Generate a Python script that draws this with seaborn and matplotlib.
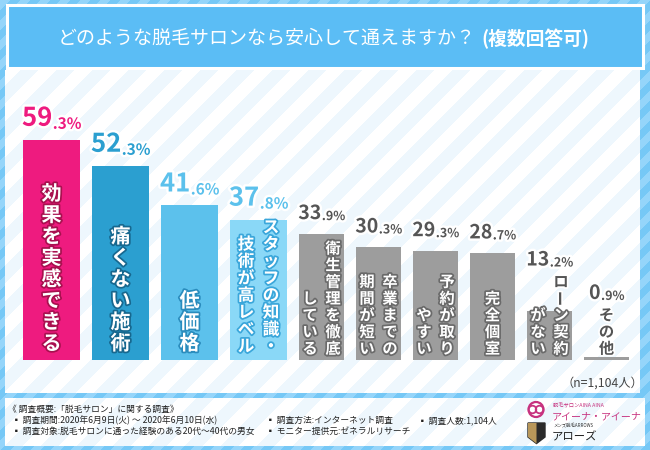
import numpy as np
import pandas as pd
import matplotlib
matplotlib.use("Agg")
import matplotlib.pyplot as plt
import matplotlib.patheffects as pe
from matplotlib.patches import Rectangle, Circle, Polygon
import seaborn as sns

# data
label_cols = ["効果を実感できる", "痛くない施術", "低価格", "スタッフの知識・\n技術が高レベル",
              "衛生管理を徹底\nしている", "卒業までの\n期間が短い", "予約が取り\nやすい",
              "完全個室", "ローン契約\nがない", "その他"]
categories = [s.replace("\n", "") for s in label_cols]
values = [59.3, 52.3, 41.6, 37.8, 33.9, 30.3, 29.3, 28.7, 13.2, 0.9]

title = "どのような脱毛サロンなら安心して通えますか？"
title_sub = "(複数回答可)"
n_note = "（n=1,104人）"
footer_lines = [
    ("《 調査概要:「脱毛サロン」に関する調査》", 8, 409),
    ("▪ 調査期間:2020年6月9日(火) ～ 2020年6月10日(水)", 12, 420.5),
    ("▪ 調査対象:脱毛サロンに通った経験のある20代～40代の男女", 12, 431.5),
    ("▪ 調査方法:インターネット調査", 266, 420.5),
    ("▪ モニター提供元:ゼネラルリサーチ", 266, 431.5),
    ("▪ 調査人数:1,104人", 418, 420.5),
]

# styles
bar_colors = ["#ee1b7f", "#2b9fd0", "#5cc1ec", "#8ad8f7"] + ["#9d9d9d"] * 6
value_colors = ["#ee1b7f", "#2b9fd0", "#5cc1ec", "#5cc1ec"] + ["#555555"] * 6
edge_colors = ["#a8104f", "#17688f", "#2a8cbd", "#3aa6da"] + ["#6a6a6a"] * 6
bar_w = [57] * 4 + [45] * 6
gap = 12
x0 = 23
W, H = 650, 450
base_px, top_px, ymax = 360, 100, 70
scale = (base_px - top_px) / ymax

sns.set_style("white")
plt.rcParams["font.family"] = ["Noto Sans CJK JP", "DejaVu Sans"]

fig = plt.figure(figsize=(6.5, 4.5), dpi=100)

# background with stripes
ax_bg = fig.add_axes([0, 0, 1, 1])
ax_bg.set_zorder(1)
yy, xx = np.mgrid[0:H, 0:W]
s = xx + yy
c1 = np.array([0x95, 0xd5, 0xfa]) / 255
c2 = np.array([0x76, 0xc8, 0xf6]) / 255
img = np.where(((s // 10) % 2 == 0)[..., None], c1, c2)
w1 = np.array([1.0, 1.0, 1.0])
w2 = np.array([0xee, 0xf7, 0xfd]) / 255
light = np.where(((s // 18) % 2 == 0)[..., None], w1, w2)
main = (xx >= 5) & (xx < 640) & (yy >= 70) & (yy < 393)
foot = (xx >= 5) & (xx < 645) & (yy >= 398) & (yy < 446)
img[main] = light[main]
img[foot] = light[foot]
ax_bg.imshow(img, extent=(0, W, H, 0), interpolation="nearest")
ax_bg.add_patch(Rectangle((7, 5), 636, 63, fc="#5bbdf5", ec="white", lw=2.2))
ax_bg.set_xlim(0, W)
ax_bg.set_ylim(H, 0)
ax_bg.axis("off")

# bars
ax = fig.add_axes([0, (H - base_px) / H, 1, (base_px - top_px) / H])
ax.set_zorder(2)
ax.patch.set_visible(False)
df = pd.DataFrame({"cat": categories, "val": values})
sns.barplot(data=df, x="cat", y="val", hue="cat", palette=bar_colors,
            legend=False, saturation=1, linewidth=0, ax=ax)
lefts = x0 + np.concatenate([[0], np.cumsum(np.array(bar_w[:-1]) + gap)])
for p, l, w in zip(ax.patches, lefts, bar_w):
    p.set_x(l)
    p.set_width(w)
ax.set_xlim(0, W)
ax.set_ylim(0, ymax)
ax.axis("off")

# vertical labels inside bars
ax_top = fig.add_axes([0, 0, 1, 1])
ax_top.set_zorder(3)
ax_top.patch.set_visible(False)
ax_top.set_xlim(0, W)
ax_top.set_ylim(H, 0)
ax_top.axis("off")

text_tops = []
for i, lab in enumerate(label_cols):
    cols = lab.split("\n")
    xc = lefts[i] + bar_w[i] / 2
    if i < 3:
        fs, step, d, bottom = 14.5, 21.4, 0, 354
    elif i == 3:
        fs, step, d, bottom = 12, 17, 12.5, 355
    else:
        fs, step, d, bottom = 11, 16.7, 11.5, 357
    bar_top = base_px - values[i] * scale
    top = bottom
    for k, col in enumerate(cols):
        cx = xc if len(cols) == 1 else xc + d * (1 - 2 * k)
        n = len(col)
        top = min(top, bottom - n * step)
        for j, ch in enumerate(col):
            cy = bottom - (n - j - 0.5) * step
            inside = cy > bar_top + 2
            fc = "white" if inside else "#555555"
            ec = edge_colors[i] if inside else "white"
            ax_top.text(cx, cy, ch, ha="center", va="center", fontsize=fs,
                        fontweight="bold", color=fc,
                        rotation=90 if ch == "ー" else 0,
                        path_effects=[pe.withStroke(linewidth=2.5, foreground=ec)])
    text_tops.append(top)

# value labels
pairs = []
for i, v in enumerate(values):
    xc = lefts[i] + bar_w[i] / 2
    big_fs, small_fs, off = (18.5, 11, 14) if i < 4 else (14, 9, 15)
    bar_top = base_px - v * scale
    anchor_px = min(bar_top - off, text_tops[i] - 8)
    anchor = (base_px - anchor_px) / scale
    whole, frac = f"{v:.1f}".split(".")
    stroke = [pe.withStroke(linewidth=3.5, foreground="white")]
    big = ax.annotate(whole, xy=(xc, anchor), xytext=(0, 0), textcoords="offset pixels",
                      ha="center", va="baseline", fontsize=big_fs, fontweight="bold",
                      color=value_colors[i], path_effects=stroke, annotation_clip=False)
    small = ax.annotate("." + frac + "%", xy=(1, 0), xycoords=big, xytext=(0.5, 0),
                        textcoords="offset pixels", ha="left", va="bottom",
                        fontsize=small_fs, fontweight="bold", color=value_colors[i],
                        path_effects=stroke, annotation_clip=False)
    pairs.append((big, small))

# title
ax_top.text(476, 38, title, ha="right", va="center", fontsize=13.7, color="white")
ax_top.text(481, 38.5, title_sub, ha="left", va="center", fontsize=13.5, color="white",
            fontweight="bold")

ax_top.text(643, 383, n_note, ha="right", va="center", fontsize=8.8, color="#444444")

for txt, x, y in footer_lines:
    ax_top.text(x, y, txt, ha="left", va="center", fontsize=6.3, color="#222222")

# logos
pink = "#c7327f"
ax_top.add_patch(Circle((536, 409.5), 7.5, fill=False, ec=pink, lw=1.6))
ax_top.add_patch(Circle((532.5, 409.5), 3.8, fill=False, ec=pink, lw=1.3))
ax_top.add_patch(Circle((539.5, 409.5), 3.8, fill=False, ec=pink, lw=1.3))
ax_top.text(553, 404.5, "脱毛サロンAINA AINA", ha="left", va="center", fontsize=3.8, color=pink)
ax_top.text(552, 416, "アイーナ・アイーナ", ha="left", va="center", fontsize=7.2, color=pink)
ax_top.add_patch(Polygon([(528, 423), (545, 423), (545, 437), (536.5, 443.5), (528, 437)],
                         closed=True, fc="#2a2a2a", ec="#2a2a2a"))
ax_top.add_patch(Polygon([(528, 423), (536.5, 423), (536.5, 443.5), (528, 437)],
                         closed=True, fc="#b8975a", ec="none"))
ax_top.text(553, 425.5, "メンズ脱毛ARROWS", ha="left", va="center", fontsize=3.2, color="#333333")
ax_top.text(552, 437, "アローズ", ha="left", va="center", fontsize=8.2, color="#222222")

# center the split value labels
fig.canvas.draw()
for big, small in pairs:
    ws = small.get_window_extent().width
    big.xyann = (-ws / 2, 0)

fig.savefig("out.png", dpi=100)
